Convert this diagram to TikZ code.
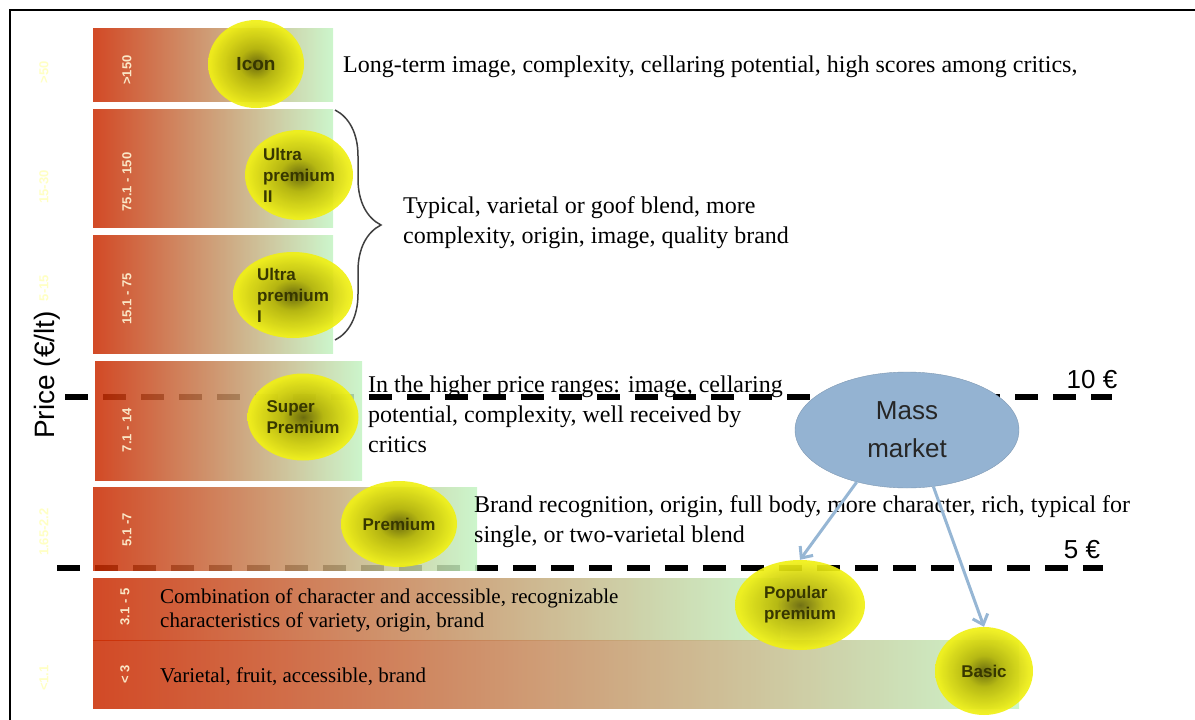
\documentclass[tikz,border=0pt]{standalone}
\usepackage{fontspec}
\setmainfont{Liberation Serif}
\setsansfont{Liberation Sans}
\usetikzlibrary{shapes.geometric,positioning,decorations.pathreplacing,arrows.meta}

\definecolor{bandred}{RGB}{202,42,0}
\definecolor{bandgreen}{RGB}{195,244,195}
\definecolor{olivedark}{RGB}{100,100,0}
\definecolor{olivemid}{RGB}{180,180,5}
\definecolor{ballyellow}{RGB}{240,240,20}
\definecolor{massblue}{RGB}{148,179,210}
\definecolor{arrowblue}{RGB}{150,182,212}
\definecolor{rangecream}{RGB}{250,232,200}
\definecolor{faintyellow}{RGB}{255,255,195}
\definecolor{textolive}{RGB}{55,55,0}

\pgfdeclareradialshading{yellowball}{\pgfpoint{0bp}{0bp}}{color(0bp)=(olivedark); color(9bp)=(olivemid); color(24bp)=(ballyellow); color(50bp)=(ballyellow)}

\begin{document}
\begin{tikzpicture}[x=1pt, y=-1pt,
    band/.style={left color=bandred, right color=bandgreen, fill opacity=0.85},
    seg/.style={ellipse, shading=yellowball, fill opacity=0.92, text opacity=1, inner sep=0pt, align=left,
        text=textolive, font=\sffamily\bfseries\fontsize{17}{21}\selectfont},
    pricerange/.style={rotate=90, text=rangecream, font=\sffamily\bfseries\fontsize{13}{15}\selectfont},
    faint/.style={rotate=90, text=faintyellow, font=\sffamily\bfseries\fontsize{13}{15}\selectfont},
    note/.style={anchor=west, align=left, inner sep=0pt, font=\fontsize{24}{30}\selectfont},
    limit/.style={line width=6pt, dash pattern=on 23pt off 15pt},
    euro/.style={font=\sffamily\fontsize{26}{30}\selectfont},
    flow/.style={draw=arrowblue, line width=3pt, -{Straight Barb[length=9pt, width=16pt]}},]
    \useasboundingbox (0,0) rectangle (1195,720);
    \draw[line width=2pt] (1195,10) -| (10,720);

    % price limits
    \coordinate (hi0) at (65,397);
    \coordinate (hi1) at (1112,397);
    \coordinate (lo0) at (57,568);
    \coordinate (lo1) at (1103,568);
    \draw[limit] (hi0) -- (hi1);
    \draw[limit] (lo0) -- (lo1);

    % segments
    \shade[band] (93,28) rectangle (333,101);
    \shade[band] (93,109) rectangle (333,227);
    \shade[band] (93,235) rectangle (333,353);
    \shade[band] (95,361) rectangle (362,480);
    \shade[band] (93,487) rectangle (477,570);
    \shade[band] (93,578) rectangle (780,640);
    \shade[band] (93,640) rectangle (1019,708);

    \node[pricerange] (r1) at (127,70) {>150};
    \node[pricerange] (r2) at (127,182) {75.1 - 150};
    \node[pricerange] (r3) at (127,299) {15.1 - 75};
    \node[pricerange] (r4) at (127,430) {7.1 - 14};
    \node[pricerange] (r5) at (127,530) {5.1 -7};
    \node[pricerange] (r6) at (125,607) {3.1 - 5};
    \node[pricerange] (r7) at (125,674) {< 3};

    \node[faint] (f1) at (44,72) {>50};
    \node[faint] (f2) at (44,187) {15-30};
    \node[faint] (f3) at (44,288) {5-15};
    \node[faint] (f4) at (44,532) {1.65-2.2};
    \node[faint] (f5) at (44,678) {<1.1};

    \draw[decorate, decoration={brace, amplitude=46pt}, line width=1.5pt, black!75] (335,110) -- (335,340);

    \node[seg, minimum width=96pt, minimum height=88pt] (icon) at (256,64) {\fontsize{19}{22}\selectfont Icon};
    \node[seg, minimum width=108pt, minimum height=90pt] (ultraII) at (299,175) {Ultra\\premium\\II};
    \node[seg, minimum width=120pt, minimum height=86pt] (ultraI) at (293,295) {Ultra\\premium\\I};
    \node[seg, minimum width=111pt, minimum height=87pt] (super) at (303,417) {Super\\Premium};
    \node[seg, minimum width=116pt, minimum height=86pt] (premium) at (399,524) {Premium};
    \node[seg, minimum width=130pt, minimum height=90pt] (popular) at (800,605) {Popular\\premium};
    \node[seg, minimum width=98pt, minimum height=88pt] (basic) at (984,671) {Basic};

    \node[note] (iconnote) at (343,67) {Long-term image, complexity, cellaring potential, high scores among critics,};
    \node[note] (ultranote) at (403,223) {Typical, varietal or goof blend, more\\complexity, origin, image, quality brand};
    \node[note] (supernote) at (368,414) {In the higher price ranges: image, cellaring\\potential, complexity, well received by\\critics};
    \node[note] (premnote) at (474,522) {Brand recognition, origin, full body, more character, rich, typical for\\single, or two-varietal blend};
    \node[note, font=\fontsize{21}{24}\selectfont] (popnote) at (160,610) {Combination of character and accessible, recognizable\\characteristics of variety, origin, brand};
    \node[note, font=\fontsize{21}{24}\selectfont] (basicnote) at (160,677) {Varietal, fruit, accessible, brand};

    \node[ellipse, fill=massblue, draw=massblue!85!black, minimum width=224pt, minimum height=116pt, align=center,
        text=black!85, font=\sffamily\fontsize{26}{38}\selectfont] (mass) at (907,430) {Mass\\market};
    \draw[flow] (mass.-134) -- (popular.north);
    \draw[flow] (mass.-65) -- (basic.north);

    \node[euro] (ten) at (1092,380) {10 €};
    \node[euro] (five) at (1082,550) {5 €};
    \node[rotate=90, font=\sffamily\fontsize{28}{30}\selectfont] (price) at (47,375) {Price (€/lt)};
\end{tikzpicture}
\end{document}
